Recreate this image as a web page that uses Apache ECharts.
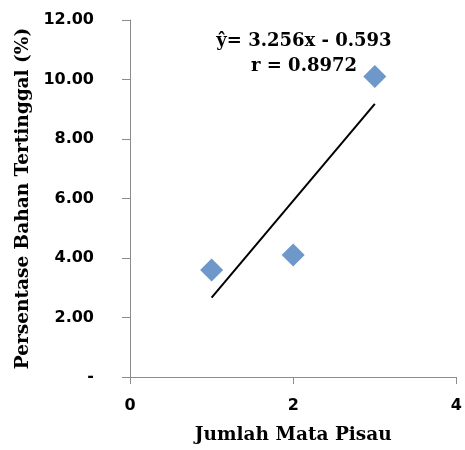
<!DOCTYPE html>
<html>
<head>
<meta charset="utf-8">
<script src="https://cdn.jsdelivr.net/npm/echarts@6/dist/echarts.min.js"></script>
<style>html,body{margin:0;padding:0;background:#fff}#c{width:465px;height:450px}</style>
</head>
<body>
<div id="c"></div>
<script>
var xValues = [1, 2, 3];
var yValues = [3.6, 4.1, 10.1];
var trendX = [1, 3];
var trendY = [2.67, 9.18];
var xTicks = [0, 2, 4];
var yTicks = [0, 2, 4, 6, 8, 10, 12];
var equationText = "ŷ= 3.256x - 0.593";
var rText = "r = 0.8972";
var xTitle = "Jumlah Mata Pisau";
var yTitle = "Persentase Bahan Tertinggal (%)";

var chart = echarts.init(document.getElementById('c'), null, {renderer: 'canvas'});
var axisLine = {show: true, lineStyle: {color: '#8c8c8c', width: 1}};
var tickLabelFont = {fontFamily: 'DejaVu Sans', fontWeight: 'bold', fontSize: 16, color: '#000'};
var titleFont = {fontFamily: 'DejaVu Serif', fontWeight: 'bold', fontSize: 18.5, color: '#000'};
chart.setOption({
  animation: false,
  backgroundColor: '#fff',
  grid: {left: 130, right: 7, top: 20, bottom: 67},
  xAxis: {
    type: 'value', min: xTicks[0], max: xTicks[xTicks.length - 1], interval: 2,
    axisLine: axisLine, splitLine: {show: false},
    axisTick: {show: true, length: 7, lineStyle: {color: '#8c8c8c'}},
    axisLabel: Object.assign({margin: 21}, tickLabelFont),
    name: xTitle, nameLocation: 'middle', nameGap: 49,
    nameTextStyle: titleFont
  },
  yAxis: {
    type: 'value', min: yTicks[0], max: yTicks[yTicks.length - 1], interval: 2,
    axisLine: axisLine, splitLine: {show: false},
    axisTick: {show: true, length: 8, lineStyle: {color: '#8c8c8c'}},
    axisLabel: Object.assign({margin: 36, formatter: function (v) { return v === 0 ? '-' : v.toFixed(2); }}, tickLabelFont),
    name: yTitle, nameLocation: 'middle', nameGap: 95,
    nameTextStyle: titleFont
  },
  series: [
    {
      type: 'line', data: trendX.map(function (x, i) { return [x, trendY[i]]; }),
      symbol: 'none', lineStyle: {color: '#000', width: 2}, z: 2
    },
    {
      type: 'scatter', data: xValues.map(function (x, i) { return [x, yValues[i]]; }),
      symbol: 'diamond', symbolSize: 23, itemStyle: {color: '#4a7ebb'}, z: 3
    }
  ],
  graphic: [
    {type: 'text', style: {text: equationText, x: 304, y: 41, align: 'center', verticalAlign: 'middle', font: 'bold 18px "DejaVu Serif"', fill: '#000'}},
    {type: 'text', style: {text: rText, x: 304, y: 66, align: 'center', verticalAlign: 'middle', font: 'bold 18px "DejaVu Serif"', fill: '#000'}}
  ]
});
</script>
</body>
</html>
